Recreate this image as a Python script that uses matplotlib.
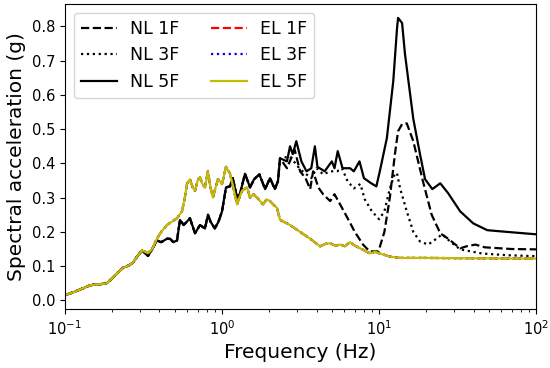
import matplotlib
matplotlib.use('Agg')
import matplotlib.pyplot as plt
import numpy as np

# shared low-frequency part (all curves coincide)
f_low = [0.1, 0.115, 0.13, 0.144, 0.16, 0.174, 0.185, 0.2, 0.214, 0.234, 0.255, 0.271, 0.29, 0.31]
v_low = [0.015, 0.025, 0.035, 0.044, 0.047, 0.048, 0.05, 0.065, 0.078, 0.095, 0.102, 0.11, 0.13, 0.146]

# elastic response (EL 1F / 3F / 5F overlap)
f_el = [0.338, 0.36, 0.385, 0.41, 0.446, 0.48, 0.517, 0.556, 0.58, 0.598, 0.625, 0.65, 0.673, 0.70,
        0.724, 0.75, 0.779, 0.814, 0.845, 0.876, 0.91, 0.943, 1.0, 1.06, 1.125, 1.18, 1.247, 1.29,
        1.34, 1.443, 1.508, 1.58, 1.671, 1.75, 1.825, 1.92, 2.02, 2.12, 2.24, 2.34, 2.59, 2.71,
        3.14, 3.64, 4.21, 4.55, 4.88, 5.25, 5.65, 6.05, 6.53, 7.0, 7.57, 8.77, 9.4, 10.1, 10.8,
        11.7, 13.6, 20.0, 40.0, 100.0]
v_el = [0.138, 0.15, 0.18, 0.2, 0.22, 0.23, 0.24, 0.26, 0.3, 0.34, 0.354, 0.33, 0.32, 0.35,
        0.36, 0.34, 0.33, 0.377, 0.33, 0.30, 0.33, 0.354, 0.34, 0.39, 0.37, 0.33, 0.28, 0.30,
        0.32, 0.33, 0.30, 0.31, 0.30, 0.29, 0.28, 0.295, 0.29, 0.28, 0.27, 0.235, 0.225, 0.22,
        0.20, 0.18, 0.158, 0.165, 0.167, 0.16, 0.163, 0.158, 0.17, 0.16, 0.152, 0.137, 0.142, 0.137, 0.133,
        0.128, 0.124, 0.124, 0.123, 0.122]

# nonlinear response, common part up to ~2.3 Hz
f_nl = [0.338, 0.36, 0.385, 0.41, 0.446, 0.467, 0.49, 0.517, 0.54, 0.57, 0.598, 0.625, 0.673, 0.724,
        0.779, 0.814, 0.845, 0.9, 0.95, 1.0, 1.06, 1.125, 1.17, 1.247, 1.30, 1.40, 1.508, 1.6,
        1.73, 1.88, 2.02, 2.17, 2.27, 2.34]
v_nl = [0.13, 0.15, 0.175, 0.17, 0.18, 0.18, 0.17, 0.175, 0.235, 0.22, 0.23, 0.24, 0.196, 0.22,
        0.21, 0.25, 0.23, 0.21, 0.23, 0.26, 0.33, 0.333, 0.357, 0.30, 0.31, 0.37, 0.33, 0.354,
        0.368, 0.325, 0.357, 0.325, 0.348, 0.415]

f_nl1 = [2.59, 2.9, 3.14, 3.4, 3.64, 3.8, 4.1, 4.4, 4.88, 5.2, 5.65, 6.3, 7.0, 7.9, 8.7, 9.9, 10.8,
         11.7, 12.6, 13.2, 14.0, 15.0, 16.5, 19.0, 21.6, 24.5, 27.5, 32.8, 36.0, 41.0, 47.0, 70.0, 100.0]
v_nl1 = [0.386, 0.44, 0.377, 0.357, 0.325, 0.377, 0.33, 0.31, 0.29, 0.31, 0.28, 0.24, 0.2, 0.163, 0.143, 0.143, 0.2,
         0.30, 0.427, 0.494, 0.515, 0.517, 0.465, 0.348, 0.25, 0.196, 0.18, 0.152, 0.158, 0.163, 0.155, 0.15, 0.149]

f_nl3 = [2.71, 3.14, 3.45, 3.7, 4.0, 4.4, 4.88, 5.4, 5.8, 6.3, 6.9, 7.6, 8.1, 9.0, 10.0, 10.8,
         11.7, 12.6, 13.0, 13.6, 15.0, 16.5, 18.2, 20.5, 22.8, 25.2, 28.3, 32.8, 45.0, 65.0, 100.0]
v_nl3 = [0.42, 0.383, 0.368, 0.357, 0.386, 0.368, 0.377, 0.377, 0.386, 0.348, 0.327, 0.34, 0.295, 0.26, 0.237, 0.26,
         0.327, 0.371, 0.371, 0.327, 0.26, 0.2, 0.172, 0.163, 0.178, 0.193, 0.172, 0.149, 0.137, 0.132, 0.129]

f_nl5 = [2.59, 2.71, 2.82, 2.97, 3.2, 3.45, 3.7, 3.9, 4.05, 4.5, 5.0, 5.2, 5.45, 5.85, 6.53, 6.9,
         7.5, 8.0, 8.9, 9.6, 10.1, 11.2, 12.3, 13.0, 13.2, 14.0, 14.6, 16.5, 18.2, 19.6, 21.8, 24.5,
         27.5, 32.8, 39.7, 48.8, 65.3, 100.0]
v_nl5 = [0.406, 0.45, 0.427, 0.465, 0.406, 0.377, 0.386, 0.45, 0.39, 0.377, 0.406, 0.386, 0.436, 0.386, 0.386, 0.377,
         0.406, 0.357, 0.342, 0.333, 0.377, 0.474, 0.64, 0.795, 0.825, 0.81, 0.72, 0.53, 0.427, 0.354, 0.325, 0.342,
         0.313, 0.26, 0.225, 0.205, 0.2, 0.193]

el_f = f_low + f_el
el_v = v_low + v_el
nl_f = f_low + f_nl
nl_v = v_low + v_nl

fig = plt.figure(figsize=(5.5, 3.68), dpi=100)
ax = fig.add_axes([0.118, 0.160, 0.857, 0.829])

ax.plot(nl_f + f_nl1, nl_v + v_nl1, 'k--', lw=1.6, label='NL 1F')
ax.plot(nl_f + f_nl3, nl_v + v_nl3, 'k:', lw=1.6, label='NL 3F')
ax.plot(nl_f + f_nl5, nl_v + v_nl5, 'k-', lw=1.6, label='NL 5F')
ax.plot(el_f, el_v, 'r--', lw=1.6, label='EL 1F')
ax.plot(el_f, el_v, 'b:', lw=1.6, label='EL 3F')
ax.plot(el_f, el_v, 'y-', lw=1.6, label='EL 5F')

ax.set_xscale('log')
ax.set_xlim(0.1, 100)
ax.set_yticks([0.0, 0.1, 0.2, 0.3, 0.4, 0.5, 0.6, 0.7, 0.8])
ax.tick_params(labelsize=10.5)
ax.set_xlabel('Frequency (Hz)', fontsize=14.5)
ax.set_ylabel('Spectral acceleration (g)', fontsize=14.5)
ax.legend(loc='upper left', ncol=2, fontsize=12.5, handlelength=2.1,
          handletextpad=0.75, columnspacing=1.8)

plt.savefig('out.png', dpi=100)
